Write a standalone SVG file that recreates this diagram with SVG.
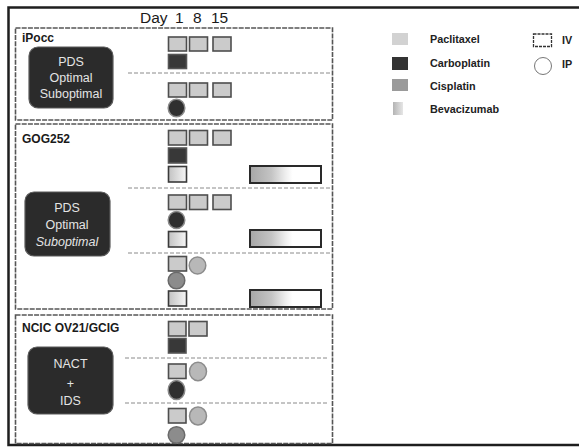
<svg xmlns="http://www.w3.org/2000/svg" width="579" height="448" viewBox="0 0 579 448">
  <defs>
    <linearGradient id="bevBar" x1="0" y1="0" x2="1" y2="0">
      <stop offset="0" stop-color="#a6a6a6"/>
      <stop offset="0.3" stop-color="#c4c4c4"/>
      <stop offset="0.5" stop-color="#eeeeee"/>
      <stop offset="0.6" stop-color="#ffffff"/>
      <stop offset="1" stop-color="#ffffff"/>
    </linearGradient>
    <linearGradient id="bevSq" x1="0" y1="0" x2="1" y2="0">
      <stop offset="0" stop-color="#c2c2c2"/>
      <stop offset="1" stop-color="#f6f6f6"/>
    </linearGradient>
    <linearGradient id="bevSw" x1="0" y1="0" x2="1" y2="0">
      <stop offset="0" stop-color="#b4b4b4"/>
      <stop offset="1" stop-color="#e6e6e6"/>
    </linearGradient>
  </defs>
  <style>
    .title{font-family:"Liberation Sans",Arial,sans-serif;font-weight:bold;font-size:12px;fill:#1a1a1a}
    .day{font-family:"Liberation Sans",Arial,sans-serif;font-size:15.5px;fill:#1a1a1a}
    .box{fill:#2b2b2b;stroke:#5a5a5a;stroke-width:1.2}
    .boxt{font-family:"Liberation Sans",Arial,sans-serif;font-size:12.5px;fill:#e4e4e4;text-anchor:middle}
    .panel{fill:none;stroke:#555;stroke-width:1.6;stroke-dasharray:5 1.2}
    .div{fill:none;stroke:#8a8a8a;stroke-width:1;stroke-dasharray:4 2}
    .pac{fill:#cbcbcb;stroke:#4e4e4e;stroke-width:1.6}
    .carbo{fill:#383838;stroke:#555;stroke-width:1.6}
    .bevsq{fill:url(#bevSq);stroke:#3a3a3a;stroke-width:1.6}
    .bevbar{fill:url(#bevBar);stroke:#2a2a2a;stroke-width:2}
    .ipdark{fill:#2f2f2f;stroke:#8a8a8a;stroke-width:1.5}
    .iplight{fill:#b8b8b8;stroke:#8c8c8c;stroke-width:1.5}
    .ipcis{fill:#8c8c8c;stroke:#6a6a6a;stroke-width:1.5}
    .leg{font-family:"Liberation Sans",Arial,sans-serif;font-weight:bold;font-size:10.8px;fill:#222}
  </style>

  <rect width="579" height="448" fill="#ffffff"/>

  <!-- outer frame -->
  <rect x="8.5" y="7.5" width="580" height="437.5" fill="none" stroke="#1e1e1e" stroke-width="2.5"/>

  <!-- day header -->
  <g id="day-header">
    <text class="day" x="140" y="23">Day</text>
    <text class="day" x="175" y="23">1</text>
    <text class="day" x="193" y="23">8</text>
    <text class="day" x="211" y="23">15</text>
  </g>

  <!-- iPocc trial -->
  <g id="ipocc">
    <rect class="panel" x="15.5" y="28" width="317" height="92"/>
    <text class="title" x="22" y="42">iPocc</text>
    <rect class="box" x="29" y="47" width="84" height="61" rx="9"/>
    <text class="boxt" x="71" y="66">PDS</text>
    <text class="boxt" x="71" y="82">Optimal</text>
    <text class="boxt" x="71" y="98">Suboptimal</text>
    <line class="div" x1="128" y1="73" x2="330" y2="73"/>
    <rect class="pac" x="168.5" y="37" width="18" height="14"/>
    <rect class="pac" x="189.5" y="37" width="18" height="14"/>
    <rect class="pac" x="213" y="37" width="18" height="14"/>
    <rect class="carbo" x="168.5" y="54.5" width="18" height="14"/>
    <rect class="pac" x="168.5" y="83" width="18" height="14"/>
    <rect class="pac" x="189.5" y="83" width="18" height="14"/>
    <rect class="pac" x="213" y="83" width="18" height="14"/>
    <ellipse class="ipdark" cx="176.5" cy="108" rx="8.3" ry="8.8"/>
  </g>

  <!-- GOG252 trial -->
  <g id="gog252">
    <rect class="panel" x="15.5" y="124" width="317" height="185"/>
    <text class="title" x="22" y="143">GOG252</text>
    <rect class="box" x="25" y="192" width="85" height="64" rx="9"/>
    <text class="boxt" x="67" y="212">PDS</text>
    <text class="boxt" x="67" y="229">Optimal</text>
    <text class="boxt" x="67" y="246" font-style="italic">Suboptimal</text>
    <line class="div" x1="128" y1="188" x2="330" y2="188"/>
    <line class="div" x1="128" y1="253" x2="330" y2="253"/>
    <!-- arm 1 -->
    <rect class="pac" x="168.5" y="130.5" width="18" height="14.5"/>
    <rect class="pac" x="189.5" y="130.5" width="18" height="14.5"/>
    <rect class="pac" x="213" y="130.5" width="18" height="14.5"/>
    <rect class="carbo" x="168.5" y="148" width="18" height="15"/>
    <rect class="bevsq" x="168.5" y="166.5" width="18" height="15.5"/>
    <rect class="bevbar" x="250" y="166" width="71" height="17"/>
    <!-- arm 2 -->
    <rect class="pac" x="168.5" y="195" width="18" height="14.5"/>
    <rect class="pac" x="189.5" y="195" width="18" height="14.5"/>
    <rect class="pac" x="213" y="195" width="18" height="14.5"/>
    <ellipse class="ipdark" cx="176.5" cy="220" rx="8.3" ry="8.5"/>
    <rect class="bevsq" x="168.5" y="231.5" width="18" height="15.5"/>
    <rect class="bevbar" x="250" y="230" width="71" height="17"/>
    <!-- arm 3 -->
    <rect class="pac" x="168.5" y="256.5" width="18" height="14.5"/>
    <ellipse class="iplight" cx="197.5" cy="265.5" rx="8.3" ry="8.5"/>
    <ellipse class="ipcis" cx="176.5" cy="280.5" rx="8.3" ry="8.3"/>
    <rect class="bevsq" x="168.5" y="291" width="18" height="15"/>
    <rect class="bevbar" x="250" y="290" width="71" height="17"/>
  </g>

  <!-- NCIC OV21/GCIG trial -->
  <g id="ncic">
    <rect class="panel" x="15.5" y="315" width="317" height="128.5"/>
    <text class="title" x="22" y="332">NCIC OV21/GCIG</text>
    <rect class="box" x="28" y="347" width="85" height="67" rx="9"/>
    <text class="boxt" x="70.5" y="368">NACT</text>
    <text class="boxt" x="70.5" y="388">+</text>
    <text class="boxt" x="70.5" y="405">IDS</text>
    <line class="div" x1="125" y1="358" x2="327" y2="358"/>
    <line class="div" x1="125" y1="403" x2="327" y2="403"/>
    <!-- arm 1 -->
    <rect class="pac" x="168.5" y="321.5" width="17.5" height="14.5"/>
    <rect class="pac" x="189" y="321.5" width="18" height="14.5"/>
    <rect class="carbo" x="168.5" y="338.5" width="17.5" height="14.5"/>
    <!-- arm 2 -->
    <rect class="pac" x="168.5" y="364" width="17.5" height="14.5"/>
    <ellipse class="iplight" cx="198" cy="371.5" rx="8.5" ry="9.3"/>
    <ellipse class="ipdark" cx="176.5" cy="390" rx="8.3" ry="9.5"/>
    <!-- arm 3 -->
    <rect class="pac" x="168.5" y="408.5" width="17.5" height="14.5"/>
    <ellipse class="iplight" cx="198" cy="416" rx="8.5" ry="9"/>
    <ellipse class="ipcis" cx="176.5" cy="435" rx="8.3" ry="8.3"/>
  </g>

  <!-- legend -->
  <g id="legend">
    <rect x="392" y="33" width="16" height="12" fill="#d2d2d2"/>
    <text class="leg" x="430" y="43">Paclitaxel</text>
    <rect x="392" y="57" width="16" height="13" fill="#333333"/>
    <text class="leg" x="430" y="67">Carboplatin</text>
    <rect x="392" y="79" width="16" height="12" fill="#9a9a9a"/>
    <text class="leg" x="430" y="90">Cisplatin</text>
    <rect x="393" y="102" width="10" height="13" fill="url(#bevSw)"/>
    <text class="leg" x="430" y="113">Bevacizumab</text>
    <rect x="533.5" y="34" width="18" height="12.5" fill="none" stroke="#333" stroke-width="1.3" stroke-dasharray="3 1"/>
    <text class="leg" x="562" y="44">IV</text>
    <circle cx="543" cy="66" r="8.5" fill="none" stroke="#777" stroke-width="1"/>
    <text class="leg" x="562" y="68">IP</text>
  </g>
</svg>
